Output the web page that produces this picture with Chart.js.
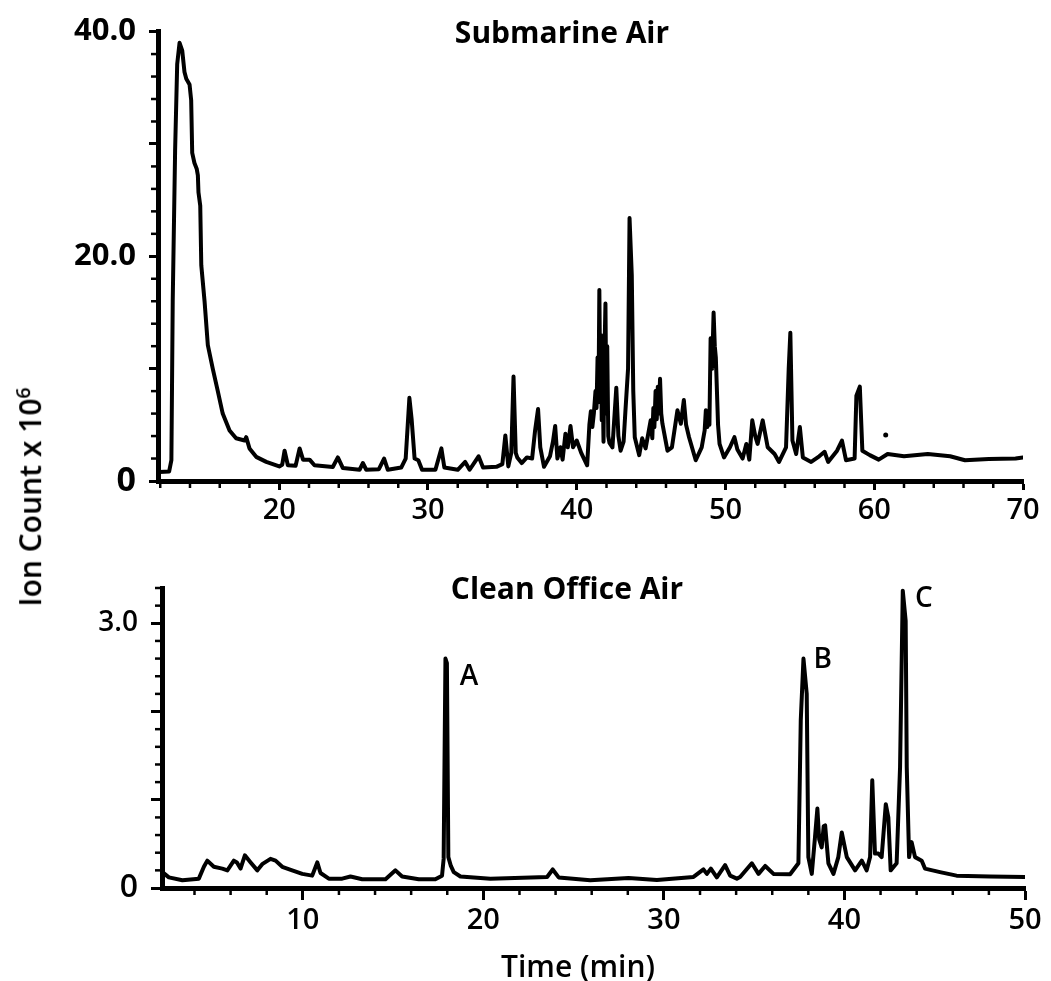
<!DOCTYPE html>
<html>
<head>
<meta charset="utf-8">
<title>Submarine Air / Clean Office Air</title>
<script src="https://cdn.jsdelivr.net/npm/chart.js@4.4.0/dist/chart.umd.min.js"></script>
<style>
  html, body { margin: 0; background: #fff; }
  #page { position: relative; width: 1051px; height: 981px; font-family: 'Open Sans', sans-serif; color: #000; }
  .box { position: absolute; left: 0; width: 1051px; }
  #topBox { top: 0; height: 530px; }
  #bottomBox { top: 530px; height: 451px; }
  .txt { position: absolute; white-space: nowrap; line-height: 1; transform: translate(-50%, -50%); }
  .title { font-weight: bold; font-size: 30px; }
  #yTitle { left: 29px; top: 497px; font-size: 30px; font-weight: 600; transform: translate(-50%, -50%) rotate(-90deg); }
  #yTitle span { font-size: 0.65em; vertical-align: 0.55em; line-height: 1; }
  #xTitle { left: 578px; top: 966px; font-size: 30px; font-weight: 600; }
</style>
</head>
<body>
<div id="page">
  <div class="box" id="topBox"><canvas id="subChart"></canvas></div>
  <div class="box" id="bottomBox"><canvas id="officeChart"></canvas></div>
  <div class="txt title" style="left:562px; top:32px;">Submarine Air</div>
  <div class="txt title" style="left:567px; top:588px;">Clean Office Air</div>
  <div class="txt" id="yTitle">Ion Count x 10<span>6</span></div>
  <div class="txt" id="xTitle">Time (min)</div>
</div>
<script>
// submarine air run: time (min) and ion count (x 10^6)
const subTime = [
  11.95, 12.6, 12.75, 12.84, 13.0, 13.14, 13.3, 13.48, 13.63, 13.75, 13.97, 14.08, 14.15, 14.3, 14.45, 14.53,
  14.57, 14.69, 14.76, 14.98, 15.2, 15.53, 15.87, 16.2, 16.66, 17.1, 17.67, 17.78, 18.0, 18.45, 19.13, 20.0,
  20.2, 20.36, 20.58, 21.1, 21.37, 21.6, 22.04, 22.37, 23.6, 23.94, 24.28, 25.4, 25.62, 25.85, 26.7, 27.05,
  27.3, 28.2, 28.5, 28.75, 28.9, 29.1, 29.35, 29.6, 30.5, 30.9, 31.1, 32.0, 32.5, 32.8, 33.4, 33.7,
  34.6, 35.0, 35.2, 35.4, 35.6, 35.75, 35.9, 36.0, 36.3, 36.65, 37.0, 37.2, 37.4, 37.55, 37.8, 38.2,
  38.4, 38.55, 38.7, 38.9, 39.05, 39.24, 39.4, 39.58, 39.75, 40.0, 40.3, 40.7,
  40.85, 40.95, 41.05, 41.15, 41.26, 41.33, 41.4, 41.46, 41.52, 41.58, 41.63, 41.68, 41.74, 41.8, 41.86, 41.93,
  41.99, 42.05, 42.12, 42.2, 42.4, 42.66, 42.8, 42.95, 43.15, 43.28, 43.45, 43.55, 43.7, 43.8, 43.9, 44.2,
  44.4, 44.63, 44.97, 45.08, 45.15, 45.22, 45.3, 45.38, 45.45, 45.52, 45.6, 45.68, 45.76, 46.1, 46.4, 46.77,
  47.0, 47.2, 47.35, 47.55, 48.0, 48.4, 48.6, 48.68, 48.78, 48.85, 48.92, 49.0, 49.1, 49.2, 49.28, 49.35,
  49.5, 49.6, 49.9, 50.3, 50.6, 50.8, 51.15, 51.4, 51.6, 51.8, 52.0, 52.16, 52.5, 52.84, 53.3, 53.6,
  54.07, 54.25, 54.36, 54.5, 54.75, 55.0, 55.2, 55.76, 56.3, 56.66, 56.9, 57.5, 57.83, 58.1, 58.68, 58.8,
  59.03, 59.2, 59.7, 60.3, 60.9, 62.0, 63.6, 65.1, 66.1, 67.7, 69.5, 70.0
];
const subCount = [
  0.8, 0.85, 1.85, 16.0, 29.4, 37.1, 39.0, 38.3, 36.4, 35.8, 35.3, 33.9, 29.2, 28.3, 27.8, 27.2,
  25.7, 24.5, 19.2, 16.0, 12.1, 10.0, 8.0, 6.0, 4.5, 3.8, 3.6, 3.9, 2.9, 2.15, 1.7, 1.3,
  1.45, 2.7, 1.4, 1.35, 2.9, 1.9, 1.9, 1.4, 1.25, 2.1, 1.15, 1.0, 1.6, 1.0, 1.05, 2.0,
  1.0, 1.2, 2.0, 7.4, 5.5, 2.0, 1.85, 1.0, 1.0, 2.9, 1.2, 1.0, 1.7, 1.0, 2.2, 1.2,
  1.26, 1.5, 4.05, 1.3, 2.5, 9.3, 2.5, 2.1, 1.6, 2.1, 2.0, 4.5, 6.4, 3.0, 1.26, 2.2,
  3.5, 4.9, 2.0, 3.0, 1.9, 4.2, 3.0, 4.9, 3.0, 3.6, 2.5, 1.4,
  5.0, 6.2, 4.8, 6.0, 8.0, 6.5, 11.0, 7.0, 17.0, 8.0, 13.0, 5.4, 9.0, 3.5, 11.0, 15.8,
  6.0, 12.0, 4.0, 3.4, 3.0, 8.3, 4.0, 2.7, 3.5, 6.4, 10.0, 23.4, 18.3, 8.0, 3.9, 2.3,
  3.8, 2.9, 5.4, 3.8, 6.5, 4.8, 8.0, 5.5, 8.4, 6.0, 9.1, 6.0, 5.1, 2.7, 3.0, 6.3,
  5.1, 7.2, 5.0, 3.9, 1.85, 3.0, 4.5, 6.3, 4.8, 6.0, 5.0, 12.7, 10.0, 15.0, 12.0, 11.0,
  5.0, 3.3, 2.1, 3.0, 3.9, 2.8, 2.0, 3.3, 1.9, 5.4, 4.0, 3.3, 5.4, 3.0, 2.4, 1.7,
  3.0, 10.0, 13.2, 3.6, 2.4, 4.8, 2.1, 1.7, 2.2, 2.6, 1.7, 2.7, 3.6, 1.85, 2.0, 7.6,
  8.4, 2.7, 2.3, 1.9, 2.4, 2.2, 2.4, 2.2, 1.85, 1.95, 2.0, 2.1
];
// lone speck printed above the submarine trace
const speckTime = [60.77];
const speckCount = [4.1];

// clean office air run
const officeTime = [
  2.22, 2.58, 3.33, 4.24, 4.52, 4.71, 5.07, 5.54, 5.82, 6.18, 6.35, 6.55, 6.79, 7.11, 7.48, 7.75,
  8.21, 8.49, 8.86, 9.41, 9.97, 10.52, 10.8, 10.98, 11.44, 12.18, 12.64, 13.29, 14.58, 15.13, 15.5, 16.42,
  17.34, 17.71, 17.8, 17.9, 17.98, 18.06, 18.2, 18.36, 18.73, 20.39, 23.53, 23.84, 24.17, 25.92, 28.04, 29.61,
  31.64, 32.19, 32.38, 32.6, 32.93, 33.39, 33.67, 34.04, 34.22, 34.87, 35.24, 35.61, 36.07, 36.99, 37.45, 37.58,
  37.73, 37.91, 38.0, 38.19, 38.37, 38.5, 38.6, 38.74, 38.85, 38.93, 39.11, 39.39, 39.66, 39.85, 40.13, 40.59,
  40.96, 41.23, 41.42, 41.54, 41.69, 41.88, 42.06, 42.29, 42.43, 42.56, 42.89, 43.08, 43.23, 43.39, 43.45, 43.58,
  43.72, 43.91, 44.28, 44.46, 45.29, 46.21, 48.06, 50.0
];
const officeCount = [
  0.18, 0.12, 0.087, 0.106, 0.24, 0.31, 0.24, 0.22, 0.2, 0.31, 0.29, 0.22, 0.37, 0.29, 0.2, 0.27,
  0.33, 0.31, 0.24, 0.2, 0.16, 0.14, 0.29, 0.17, 0.106, 0.106, 0.13, 0.1, 0.1, 0.2, 0.13, 0.1,
  0.1, 0.14, 0.33, 2.6, 2.55, 0.35, 0.25, 0.18, 0.13, 0.106, 0.125, 0.21, 0.12, 0.087, 0.113, 0.09,
  0.125, 0.21, 0.16, 0.22, 0.12, 0.26, 0.14, 0.106, 0.125, 0.28, 0.16, 0.25, 0.16, 0.155, 0.28, 1.9,
  2.6, 2.2, 0.35, 0.16, 0.58, 0.9, 0.55, 0.46, 0.7, 0.71, 0.28, 0.16, 0.35, 0.63, 0.35, 0.2,
  0.31, 0.2, 0.35, 1.22, 0.39, 0.39, 0.35, 0.95, 0.8, 0.2, 0.28, 1.37, 3.37, 3.03, 1.37, 0.35,
  0.52, 0.35, 0.31, 0.22, 0.18, 0.14, 0.13, 0.125
];
// peak letters in the office run
const peakNames = ['A', 'B', 'C'];
const peakNameTime = [19.2, 38.8, 44.4];
const peakNameCount = [2.39, 2.58, 3.27];

// tick labels
const subYLabelValues = [0, 20, 40];
const subYLabelText = ['0', '20.0', '40.0'];
const officeYLabelValues = [0, 3];
const officeYLabelText = ['0', '3.0'];

Chart.defaults.font.family = "'Open Sans', sans-serif";
Chart.defaults.color = '#000';

const toPoints = (xs, ys) => xs.map((x, i) => ({x: x, y: ys[i]}));
const labelFrom = (values, texts) => v => {
  const i = values.indexOf(v);
  return i < 0 ? '' : texts[i];
};
// the zero labels are printed a little larger in the original
const zeroBig = (size, bigSize, weight) => c => ({size: c.tick && c.tick.value === 0 ? bigSize : size, weight: weight});

// small in-between tick marks, drawn off the library scales
const minorTicks = {
  id: 'minorTicks',
  afterDraw(chart, args, opts) {
    const ctx = chart.ctx;
    ctx.save();
    ctx.strokeStyle = '#000';
    ctx.lineWidth = 2.5;
    ['x', 'y'].forEach(id => {
      const s = chart.scales[id];
      const o = opts[id];
      for (let i = Math.ceil(s.min / o.step - 1e-9); i * o.step <= s.max + 1e-9; i++) {
        const v = i * o.step;
        const r = v / o.major;
        if (Math.abs(r - Math.round(r)) < 1e-6) continue;
        const p = s.getPixelForValue(v);
        ctx.beginPath();
        if (id === 'x') {
          ctx.moveTo(p, s.top);
          ctx.lineTo(p, s.top + o.len);
        } else {
          ctx.moveTo(s.right, p);
          ctx.lineTo(s.right - o.len, p);
        }
        ctx.stroke();
      }
    });
    ctx.restore();
  }
};

const peakLetters = {
  id: 'peakLetters',
  afterDatasetsDraw(chart, args, opts) {
    if (!opts.names) return;
    const ctx = chart.ctx;
    const xs = chart.scales.x, ys = chart.scales.y;
    ctx.save();
    ctx.fillStyle = '#000';
    ctx.font = "600 28px 'Open Sans', sans-serif";
    ctx.textAlign = 'center';
    ctx.textBaseline = 'middle';
    opts.names.forEach((n, i) => {
      ctx.fillText(n, xs.getPixelForValue(opts.times[i]), ys.getPixelForValue(opts.counts[i]));
    });
    ctx.restore();
  }
};

function axis(extra) {
  return Object.assign({
    type: 'linear',
    border: {display: true, color: '#000', width: 5},
    grid: {drawOnChartArea: false, drawTicks: true, tickWidth: 3, tickColor: '#000'},
  }, extra);
}

function trace(points) {
  return {
    data: points,
    borderColor: '#000',
    borderWidth: 4,
    borderJoinStyle: 'round',
    borderCapStyle: 'round',
    pointRadius: 0,
    tension: 0,
    fill: false
  };
}

new Chart(document.getElementById('subChart'), {
  type: 'line',
  data: {
    datasets: [
      trace(toPoints(subTime, subCount)),
      {data: toPoints(speckTime, speckCount), showLine: false, pointRadius: 2.5, pointBackgroundColor: '#000', pointBorderWidth: 0}
    ]
  },
  options: {
    responsive: true,
    maintainAspectRatio: false,
    animation: false,
    layout: {padding: {top: 26, right: 28, left: 0, bottom: 0}},
    plugins: {legend: {display: false}, tooltip: {enabled: false}, minorTicks: {x: {step: 2, major: 10, len: 7}, y: {step: 2, major: 10, len: 7}}},
    scales: {
      x: axis({
        min: 11.85, max: 70,
        grid: {drawOnChartArea: false, tickLength: 9, tickWidth: 3, tickColor: '#000'},
        ticks: {stepSize: 10, includeBounds: false, autoSkip: false, maxRotation: 0, padding: 3, font: {size: 29, weight: '600'}},
        afterFit: s => { s.height = 49; }
      }),
      y: axis({
        min: 0, max: 40,
        grid: {drawOnChartArea: false, tickLength: 9, tickWidth: 3, tickColor: '#000'},
        ticks: {stepSize: 10, includeBounds: false, padding: 13, font: zeroBig(31, 34, 'bold'), callback: labelFrom(subYLabelValues, subYLabelText)},
        afterFit: s => { s.width = 158; }
      })
    }
  },
  plugins: [minorTicks]
});

new Chart(document.getElementById('officeChart'), {
  type: 'line',
  data: {datasets: [trace(toPoints(officeTime, officeCount))]},
  options: {
    responsive: true,
    maintainAspectRatio: false,
    animation: false,
    layout: {padding: {top: 58, right: 26, left: 0, bottom: 0}},
    plugins: {
      legend: {display: false}, tooltip: {enabled: false},
      minorTicks: {x: {step: 2, major: 10, len: 7}, y: {step: 0.2, major: 1, len: 7}},
      peakLetters: {names: peakNames, times: peakNameTime, counts: peakNameCount}
    },
    scales: {
      x: axis({
        min: 2.2, max: 50,
        grid: {drawOnChartArea: false, tickLength: 12, tickWidth: 3, tickColor: '#000'},
        ticks: {stepSize: 10, includeBounds: false, autoSkip: false, maxRotation: 0, padding: 3, font: {size: 29, weight: '600'}},
        afterFit: s => { s.height = 93; }
      }),
      y: axis({
        min: 0, max: 3.4,
        grid: {drawOnChartArea: false, tickLength: 11, tickWidth: 3, tickColor: '#000'},
        ticks: {stepSize: 1, includeBounds: false, padding: 13, font: zeroBig(28, 32, '600'), callback: labelFrom(officeYLabelValues, officeYLabelText)},
        afterFit: s => { s.width = 162; }
      })
    }
  },
  plugins: [minorTicks, peakLetters]
});
</script>
</body>
</html>
